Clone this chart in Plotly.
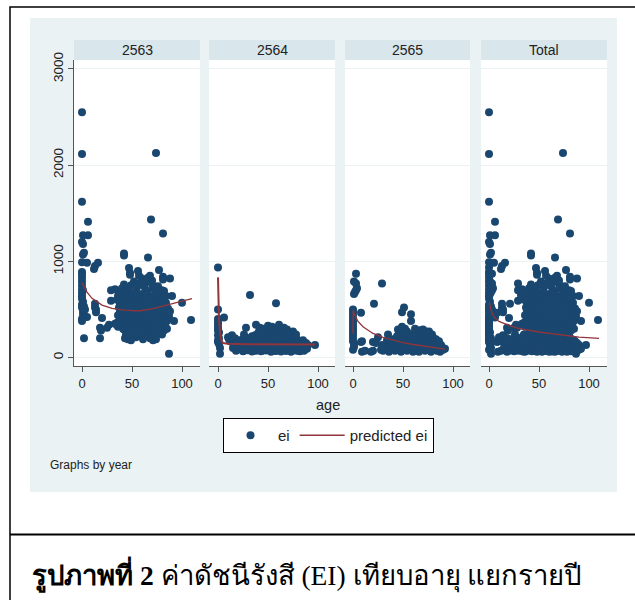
import plotly.graph_objects as go

W, H = 635, 600
NAVY = "#1a476f"
RED = "#90353b"
BG = "#eaf2f3"
STRIP = "#d9e6eb"

years = ["2563", "2564", "2565", "Total"]
y_ticks = [0, 1000, 2000, 3000]
x_ticks = [0, 50, 100]

age_2563 = [
 0,0,74,0,69,6,1,6,81,0,1,2,1,42,42,66,0,5,16,13,12,
 0,0,0,0,0,0,0,0,0,1,0,0,1,1,2,1,0,0,1,2,3,3,5,
 20,18,19,18,2,27,25,29,33,29,13,13,14,14,87,109,100,90,92,88,81,77,
 47,48,56,57,68,70,
 48,52,60,63,66,
 42,49,58,62,70,72,81,
 40,45,55,64,72,76,80,
 38,46,50,54,60,66,74,78,82,
 36,42,48,52,58,64,68,72,78,84,
 35,40,44,50,56,62,70,76,80,
 38,43,48,54,60,66,72,78,84,
 37,42,46,52,58,64,70,76,82,86,
 38,44,50,56,62,68,74,80,86,
 36,40,46,52,58,64,70,76,82,87,
 38,43,49,55,61,67,73,79,85,
 35,41,47,53,59,65,71,77,83,
 36,42,48,54,60,66,72,78,
 42,46,52,58,64,70,76,82,
 44,50,56,62,68,74,80,
 43,46,49,54,61,68,71,74,
 33,35,38,85,88,83,
 41,47,53,59,65,75,45,51,57,63,69,79,46,55,67,73]
ei_2563 = [
 2550,2115,2125,1620,1435,1410,1270,1270,1290,1200,1180,1090,1070,1080,1060,1040,990,985,985,950,920,
 890,860,830,790,750,710,670,640,610,580,550,520,490,460,440,420,400,380,700,530,420,500,420,
 410,310,280,200,200,340,310,700,710,590,560,520,470,500,40,390,570,640,380,820,840,910,
 930,880,900,850,850,800,
 860,790,820,780,830,
 760,750,770,740,760,740,810,
 720,710,730,700,720,740,700,
 680,690,670,680,660,690,670,660,690,
 640,640,620,650,630,650,620,640,610,640,
 600,590,610,580,600,590,610,590,600,
 560,550,570,540,560,550,570,550,570,
 520,510,530,500,520,510,530,500,520,510,
 480,490,470,490,470,490,480,470,460,
 440,430,450,420,440,450,430,420,440,430,
 400,410,390,410,390,400,410,380,380,
 360,350,370,340,370,350,360,370,350,
 320,330,310,330,310,320,330,300,
 290,280,270,290,270,280,290,280,
 240,250,230,250,240,230,240,
 200,190,180,210,190,200,180,190,
 350,340,345,300,480,440,
 300,410,370,460,410,340,540,500,620,580,530,470,230,660,610,260]

age_2564 = [
 0,32,58,0,6,0,0,0,0,0,1,0,1,0,0,1,2,2,28,38,97,
 10,11,12,14,15,16,17,18,
 22,25,28,31,34,37,40,43,46,49,52,55,58,61,64,67,70,73,76,79,82,85,88,
 20,24,27,30,33,36,39,42,45,48,51,54,57,60,63,66,69,72,75,78,81,84,87,90,
 19,23,26,29,35,38,41,44,47,50,53,56,59,62,65,68,71,74,77,80,83,86,89,
 41,44,47,50,53,56,59,60,63,66,69,72,75,78,
 42,46,50,54,58,61,62,66,
 35,40,45,50,53,57,60,64,68,72,76,
 26,22,31,
 15,18,21,25,30,34,38,43,48,53,58,63,68,73,78,82]
ei_2564 = [
 935,650,565,500,415,400,370,340,310,280,260,230,200,180,160,140,100,40,310,340,130,
 210,190,170,230,150,120,200,160,
 180,190,170,200,220,230,250,240,210,250,230,220,260,240,220,230,210,200,220,190,170,180,150,
 130,150,110,160,130,170,140,180,150,170,140,180,150,170,140,160,140,170,130,150,120,140,110,130,
 80,90,70,100,90,80,100,70,90,80,100,70,90,80,100,70,90,80,100,70,90,70,90,
 270,290,260,280,300,270,290,310,280,260,290,250,270,240,
 310,300,330,320,300,340,280,310,
 130,120,110,130,110,120,130,110,120,130,110,
 240,110,110,
 100,70,90,65,75,62,70,64,72,60,68,62,70,60,72,64]

age_2565 = [
 3,1,3,29,3,2,1,4,21,8,51,49,58,58,49,52,35,
 0,0,0,0,0,0,0,0,0,0,0,0,1,1,0,9,8,9,12,18,20,20,25,23,
 28,30,33,36,39,42,45,48,51,54,57,60,63,66,69,72,75,78,81,84,87,90,
 29,32,35,38,41,44,47,50,53,56,59,62,65,68,71,74,77,80,83,86,89,92,
 34,37,40,43,46,49,52,55,58,61,64,67,70,73,76,79,82,85,88,
 44,47,50,53,56,59,62,65,68,71,74,77,80,83,86,
 46,50,54,58,62,66,67,70,72,76,79,
 45,48,62,67,70,73]
ei_2565 = [
 870,790,770,770,700,680,660,720,560,465,520,470,450,380,320,300,240,
 500,470,440,410,380,350,320,290,260,230,200,170,140,110,80,170,160,60,70,60,70,160,210,150,
 80,70,90,60,80,70,90,60,80,70,90,60,80,60,90,70,80,60,90,70,60,80,
 130,120,140,110,130,120,140,110,130,120,140,110,130,120,140,110,130,120,140,110,110,90,
 180,170,190,160,180,170,190,160,180,170,190,160,180,170,190,160,150,160,130,
 220,230,210,230,210,220,230,210,220,230,210,220,210,190,170,
 260,250,270,240,260,280,250,280,250,270,240,
 290,280,300,280,290,270]

pred_age_2563 = [0, 5, 10, 20, 30, 40, 50, 58, 70, 80, 90, 100, 110]
pred_ei_2563 = [775, 680, 615, 545, 510, 495, 488, 486, 505, 530, 560, 585, 611]
pred_age_2564 = [0, 0.5, 1, 2, 3, 5, 10, 30, 60, 97]
pred_ei_2564 = [833, 560, 400, 260, 185, 150, 142, 138, 136, 135]
pred_age_2565 = [0, 0.2, 1, 5, 10, 20, 30, 40, 50, 60, 70, 80, 92]
pred_ei_2565 = [250, 490, 460, 375, 320, 250, 210, 180, 155, 135, 118, 103, 88]
pred_age_total = [0.5, 2, 5, 10, 20, 30, 50, 70, 90, 110]
pred_ei_total = [573, 490, 420, 375, 335, 300, 265, 235, 212, 198]

ages = [age_2563, age_2564, age_2565, age_2563 + age_2564 + age_2565]
eis = [ei_2563, ei_2564, ei_2565, ei_2563 + ei_2564 + ei_2565]
pred_ages = [pred_age_2563, pred_age_2564, pred_age_2565, pred_age_total]
pred_eis = [pred_ei_2563, pred_ei_2564, pred_ei_2565, pred_ei_total]
line_widths = [1.3, 2, 1.3, 1.3]

# layout, in pixels of the picture
panels = [(74, 200), (209, 335), (345, 470), (481, 607)]
zero_px = [82, 218, 353, 489]
PLOT_TOP, PLOT_BOT = 60, 366
STRIP_TOP = 40
YR = [(357.5 - 366) / 0.0962, (357.5 - 60) / 0.0962]


def fx(p):
    return p / W


def fy(p):
    return 1 - p / H


fig = go.Figure()
layout = {}
shapes = [
    dict(type="rect", xref="paper", yref="paper", x0=fx(30), x1=fx(617), y0=fy(492), y1=fy(18),
         fillcolor=BG, line_width=0, layer="below"),
    dict(type="path", xref="paper", yref="paper",
         path=f"M {fx(10)} {fy(600)} L {fx(10)} {fy(7)} L 1 {fy(7)}",
         line=dict(color="#000000", width=1.5), layer="below"),
    dict(type="line", xref="paper", yref="paper", x0=fx(10), x1=1, y0=fy(534.5), y1=fy(534.5),
         line=dict(color="#000000", width=2), layer="below"),
]
annotations = []

for i, yr in enumerate(years):
    k = "" if i == 0 else str(i + 1)
    l, r = panels[i]
    layout["xaxis" + k] = dict(
        domain=[fx(l), fx(r)], range=[l - zero_px[i], r - zero_px[i]], automargin=False,
        tickmode="array", tickvals=x_ticks, ticks="outside", ticklen=5, tickwidth=1,
        tickcolor="#555555", showgrid=False, zeroline=False, showline=True,
        linecolor="#555555", linewidth=1, anchor="y" + k,
        tickfont=dict(family="Liberation Sans", size=13, color="#222222"),
    )
    ax = dict(
        domain=[fy(PLOT_BOT), fy(PLOT_TOP)], range=YR, anchor="x" + k, automargin=False,
        tickmode="array", tickvals=y_ticks, showgrid=True, gridcolor=BG, gridwidth=1.3,
        zeroline=False,
    )
    if i == 0:
        ax.update(showline=True, linecolor="#555555", linewidth=1, ticks="outside", ticklen=5,
                  tickcolor="#555555", tickangle=-90,
                  tickfont=dict(family="Liberation Sans", size=13.5, color="#222222"))
    else:
        ax.update(showticklabels=False, ticks="")
    layout["yaxis" + k] = ax
    shapes.append(dict(type="rect", xref="paper", yref="paper", x0=fx(l), x1=fx(r),
                       y0=fy(PLOT_BOT), y1=fy(PLOT_TOP), fillcolor="#ffffff", line_width=0, layer="below"))
    shapes.append(dict(type="rect", xref="paper", yref="paper", x0=fx(l), x1=fx(r),
                       y0=fy(PLOT_TOP), y1=fy(STRIP_TOP), fillcolor=STRIP, line_width=0, layer="below"))
    annotations.append(dict(text=yr, xref="paper", yref="paper", x=fx((l + r) / 2), y=fy(49.5),
                            xanchor="center", yanchor="middle", showarrow=False,
                            font=dict(family="Liberation Sans", size=14, color="#222222")))
    fig.add_trace(go.Scatter(x=ages[i], y=eis[i], mode="markers", name="ei", legendgroup="ei",
                             showlegend=i == 0, xaxis="x" + k, yaxis="y" + k,
                             marker=dict(color=NAVY, size=8, line_width=0)))
    fig.add_trace(go.Scatter(x=pred_ages[i], y=pred_eis[i], mode="lines", name="predicted ei",
                             legendgroup="pred", showlegend=i == 0, xaxis="x" + k, yaxis="y" + k,
                             line=dict(color=RED, width=line_widths[i])))

annotations += [
    dict(text="age", xref="paper", yref="paper", x=fx(328), y=fy(405), xanchor="center", yanchor="middle",
         showarrow=False, font=dict(family="Liberation Sans", size=14.5, color="#222222")),
    dict(text="Graphs by year", xref="paper", yref="paper", x=fx(48), y=fy(465), xanchor="left", yanchor="middle",
         showarrow=False, font=dict(family="Liberation Sans", size=12, color="#222222")),
    dict(text="<b>รูปภาพที่ 2</b> ค่าดัชนีรังสี (EI) เทียบอายุ แยกรายปี", xref="paper", yref="paper",
         x=fx(30), y=fy(574), xanchor="left", yanchor="middle", showarrow=False,
         font=dict(family="Liberation Serif, Noto Sans", size=27.5, color="#000000")),
]

fig.update_layout(
    width=W, height=H, margin=dict(l=0, r=0, t=0, b=0, pad=0, autoexpand=False),
    paper_bgcolor="#ffffff",
    plot_bgcolor="rgba(0,0,0,0)", shapes=shapes, annotations=annotations,
    legend=dict(orientation="h", x=fx(328.5), xanchor="center", y=fy(418), yanchor="top",
                itemwidth=45, bgcolor="#ffffff", bordercolor="#000000", borderwidth=1,
                font=dict(family="Liberation Sans", size=15, color="#222222")),
    **layout,
)
fig.write_html(
    "out.html",
    config={"displayModeBar": False},
    post_script="var g=document.getElementById('{plot_id}');g.style.position='fixed';g.style.top='0';g.style.left='0';document.body.style.margin='0';",
)
